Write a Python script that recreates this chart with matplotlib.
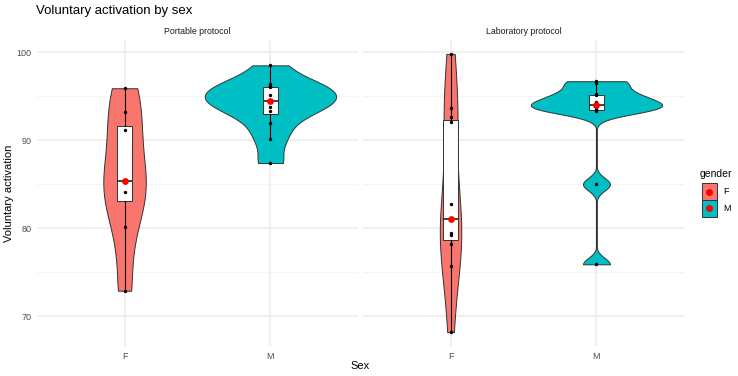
import numpy as np
import matplotlib
matplotlib.use("Agg")
from matplotlib import pyplot as plt
from matplotlib.patches import Rectangle
from matplotlib.lines import Line2D

plt.rcParams["font.family"] = ["Liberation Sans", "DejaVu Sans"]

protocols = ["Portable protocol", "Laboratory protocol"]
sexes = ["F", "M"]
fill_colors = ["#F8766D", "#00BFC4"]

# voluntary activation (%) per subject
portable_f = [72.9, 80.1, 84.1, 85.4, 85.4, 91.1, 93.2, 95.9]
portable_m = [87.4, 90.1, 91.9, 93.3, 93.8, 94.5, 94.5, 95.1, 96.0, 96.2, 96.4, 98.5]
lab_f = [68.2, 75.7, 78.2, 79.2, 79.4, 81.05, 82.7, 92.05, 92.6, 93.6, 99.8]
lab_m = [75.9, 85.0, 93.3, 93.5, 93.8, 94.05, 94.3, 95.1, 95.2, 96.5, 96.7]

panels = [[portable_f, portable_m], [lab_f, lab_m]]

W, H = 738, 376


def fx(x):
    return x / W


def fy(y):
    return 1 - y / H


def kde(vals, n=512):
    # gaussian kernel, silverman (bw.nrd0) bandwidth, trimmed to data range
    x = np.asarray(vals, float)
    q1, q3 = np.percentile(x, [25, 75])
    bw = 0.9 * min(x.std(ddof=1), (q3 - q1) / 1.34) * len(x) ** -0.2
    grid = np.linspace(x.min(), x.max(), n)
    z = (grid[:, None] - x[None, :]) / bw
    dens = np.exp(-0.5 * z ** 2).sum(1) / (len(x) * bw * np.sqrt(2 * np.pi))
    return grid, dens


allvals = np.concatenate([np.concatenate(p) for p in panels])
lo, hi = allvals.min(), allvals.max()
pad = (hi - lo) * 0.05

fig = plt.figure(figsize=(W / 100, H / 100), dpi=100)
panel_left = [37, 363]
panel_w = 321
top, bottom = 40, 346

for k, (name, groups) in enumerate(zip(protocols, panels)):
    ax = fig.add_axes([fx(panel_left[k]), fy(bottom), panel_w / W, (bottom - top) / H])
    ax.set_xlim(0.4, 2.6)
    ax.set_ylim(lo - pad, hi + pad)
    for s in ax.spines.values():
        s.set_visible(False)
    ax.set_yticks([70, 80, 90, 100])
    ax.set_yticks([75, 85, 95], minor=True)
    ax.set_xticks([1, 2])
    ax.set_xticklabels(sexes)
    ax.tick_params(length=0, labelsize=6.5, labelcolor="#4D4D4D", pad=4)
    ax.tick_params(which="minor", length=0)
    if k == 1:
        ax.set_yticklabels([])
    ax.grid(True, which="major", color="#EBEBEB", lw=1.1)
    ax.grid(True, which="minor", axis="y", color="#F3F3F3", lw=0.6)
    ax.set_axisbelow(True)

    dens_list = [kde(g) for g in groups]
    dmax = max(d.max() for _, d in dens_list)
    for i, (grid, dens) in enumerate(dens_list):
        pos = i + 1
        half = dens / dmax * 0.45
        ax.fill_betweenx(grid, pos - half, pos + half, facecolor=fill_colors[i],
                         edgecolor="#333333", lw=0.7, zorder=2)

    ax.boxplot(groups, positions=[1, 2], widths=0.1, patch_artist=True,
               showfliers=False, showcaps=False, manage_ticks=False,
               boxprops=dict(facecolor="white", edgecolor="#333333", lw=0.7),
               whiskerprops=dict(color="black", lw=0.8),
               medianprops=dict(color="#222222", lw=1.2), zorder=3)

    for i, g in enumerate(groups):
        ax.scatter(np.full(len(g), i + 1), g, s=6, color="black", zorder=4, lw=0)
        ax.scatter([i + 1], [np.median(g)], s=24, color="red", zorder=5, lw=0)

    fig.text(fx(panel_left[k] + panel_w / 2), fy(32), name, ha="center", va="center",
             fontsize=6.3, color="#1A1A1A")

fig.text(fx(36), fy(11), "Voluntary activation by sex", ha="left", va="center", fontsize=9.5)
fig.text(fx(360), fy(366), "Sex", ha="center", va="center", fontsize=8)
fig.text(fx(9), fy(193), "Voluntary activation", ha="center", va="center",
         rotation=90, fontsize=8)

# legend drawn by hand: ggplot style square keys with the red summary dot
fig.text(fx(700), fy(174), "gender", ha="left", va="center", fontsize=7.5)
key_w, key_h = 15, 16.7
for i, (lab, c) in enumerate(zip(sexes, fill_colors)):
    y0 = 183.3 + i * key_h
    fig.patches.append(Rectangle((fx(701.7), fy(y0 + key_h)), key_w / W, key_h / H,
                                 transform=fig.transFigure, facecolor=c,
                                 edgecolor="#333333", lw=0.7))
    fig.lines.append(Line2D([fx(701.7 + key_w / 2)], [fy(y0 + key_h / 2)],
                            transform=fig.transFigure, marker="o", ls="",
                            color="red", markersize=4))
    fig.text(fx(723), fy(y0 + key_h / 2), lab, ha="left", va="center", fontsize=6.5)

fig.savefig("out.png", dpi=100)
